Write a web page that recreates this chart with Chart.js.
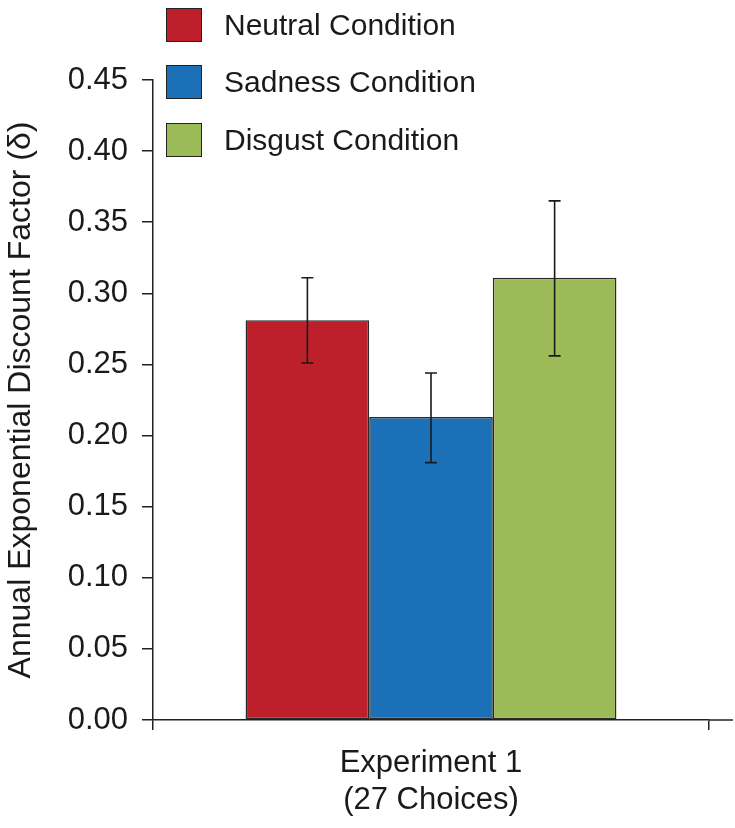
<!DOCTYPE html>
<html>
<head>
<meta charset="utf-8">
<script src="https://cdn.jsdelivr.net/npm/chart.js@4.4.0/dist/chart.umd.min.js"></script>
<style>
    html, body { margin: 0; padding: 0; background: #fff; }
    #wrap { position: relative; width: 735px; height: 828px; }
    #legend {
        position: absolute; left: 166px; top: 7px;
        font-family: 'Liberation Sans', Arial, sans-serif;
        font-size: 30px; color: #1a1a1a;
    }
    .item { display: flex; align-items: center; height: 35px; margin-bottom: 22.5px; }
    .box { width: 34px; height: 32px; border: 1.5px solid #222; margin-right: 22px; }
</style>
</head>
<body>
<div id="wrap">
    <canvas id="chart" width="735" height="828"></canvas>
    <div id="legend"></div>
</div>
<script>
// ============================================================
//  Data
// ============================================================

const categories = [["Experiment 1", "(27 Choices)"]];
const conditions = ["Neutral Condition", "Sadness Condition", "Disgust Condition"];
const meanValues = [0.281, 0.213, 0.311];
const errLower   = [0.251, 0.181, 0.256];
const errUpper   = [0.311, 0.244, 0.365];
const yTickValues = [0, 0.05, 0.10, 0.15, 0.20, 0.25, 0.30, 0.35, 0.40, 0.45];

const COLORS = ["#bd1f2b", "#1c70b8", "#9bbb59"];
const INK = "#1a1a1a";
const FONT = "'Liberation Sans', Arial, sans-serif";

// ============================================================
//  Plugins: error bars + axis line running past the plot
// ============================================================

const errorBars = {
    id: "errorBars",
    afterDatasetsDraw(chart) {
        const { ctx } = chart;
        const y = chart.scales.y;
        ctx.save();
        ctx.strokeStyle = INK;
        ctx.lineWidth = 1.6;
        chart.data.datasets.forEach((ds, i) => {
            const meta = chart.getDatasetMeta(i);
            meta.data.forEach(bar => {
                const top = y.getPixelForValue(errUpper[i]);
                const bot = y.getPixelForValue(errLower[i]);
                const half = 6;
                ctx.beginPath();
                ctx.moveTo(bar.x, top); ctx.lineTo(bar.x, bot);
                ctx.moveTo(bar.x - half, top); ctx.lineTo(bar.x + half, top);
                ctx.moveTo(bar.x - half, bot); ctx.lineTo(bar.x + half, bot);
                ctx.stroke();
            });
        });
        ctx.restore();
    },
};

const axisTail = {
    id: "axisTail",
    afterDraw(chart) {
        const { ctx, chartArea } = chart;
        ctx.save();
        ctx.strokeStyle = "#222";
        ctx.lineWidth = 1.5;
        ctx.beginPath();
        ctx.moveTo(chartArea.right, chartArea.bottom);
        ctx.lineTo(chart.width - 2, chartArea.bottom);
        ctx.stroke();
        ctx.restore();
    },
};

// ============================================================
//  Chart
// ============================================================

new Chart(document.getElementById("chart"), {
    type: "bar",
    data: {
        labels: categories,
        datasets: conditions.map((name, i) => ({
            label: name,
            data: [meanValues[i]],
            backgroundColor: COLORS[i],
            borderColor: "#2a2a2a",
            borderWidth: 1.5,
            borderSkipped: false,
            categoryPercentage: 0.667,
            barPercentage: 1.0,
        })),
    },
    options: {
        responsive: false,
        animation: false,
        layout: { padding: { top: 80, right: 26, bottom: 8, left: 0 } },
        plugins: {
            legend: { display: false },
            tooltip: { enabled: false },
        },
        scales: {
            x: {
                offset: true,
                afterFit: s => { s.height = 100; },
                grid: {
                    offset: true,
                    drawOnChartArea: false,
                    tickLength: 10,
                    color: "#222",
                    lineWidth: 1.5,
                },
                border: { color: "#222", width: 1.5 },
                ticks: {
                    color: INK,
                    padding: 15,
                    font: { family: FONT, size: 31, lineHeight: 1.2 },
                },
            },
            y: {
                min: 0,
                max: 0.45,
                afterBuildTicks: s => { s.ticks = yTickValues.map(v => ({ value: v })); },
                afterFit: s => { s.width = 153; },
                grid: {
                    drawOnChartArea: false,
                    tickLength: 11,
                    color: "#222",
                    lineWidth: 1.5,
                },
                border: { color: "#222", width: 1.5 },
                ticks: {
                    color: INK,
                    padding: 14,
                    font: { family: FONT, size: 31 },
                    callback: v => Number(v).toFixed(2),
                },
                title: {
                    display: true,
                    text: "Annual Exponential Discount Factor (δ)",
                    color: INK,
                    padding: { top: 2, bottom: 0 },
                    font: { family: FONT, size: 32, lineHeight: 1.2 },
                },
            },
        },
    },
    plugins: [errorBars, axisTail],
});

// HTML legend built from the same lists
const legend = document.getElementById("legend");
conditions.forEach((name, i) => {
    const item = document.createElement("div");
    item.className = "item";
    item.innerHTML = `<span class="box" style="background:${COLORS[i]}"></span><span>${name}</span>`;
    legend.appendChild(item);
});
</script>
</body>
</html>
